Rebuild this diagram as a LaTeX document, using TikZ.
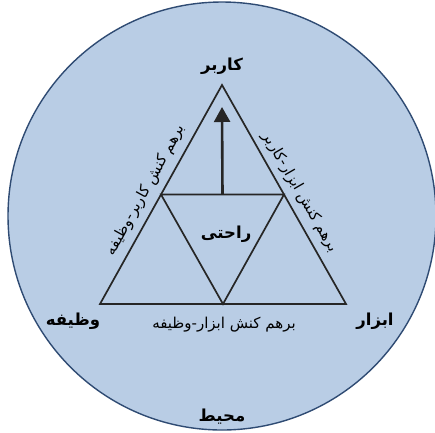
\documentclass[tikz,border=0pt]{standalone}
\usepackage{fontspec}
\usetikzlibrary{arrows.meta,calc}
\TeXXeTstate=1
\newfontfamily\arabicfont[Script=Arabic]{DejaVu Sans}
\definecolor{bgblue}{HTML}{B9CDE5}
\definecolor{rimblue}{HTML}{2F4B73}
\definecolor{linegray}{HTML}{262626}
\begin{document}
\begin{tikzpicture}[x=1pt,y=-1pt,
  edge/.style={draw=linegray,line width=1.7pt,line join=miter},
  biglabel/.style={font=\arabicfont\bfseries\fontsize{16.5}{19}\selectfont,inner sep=0pt},
  sidelabel/.style={font=\arabicfont\fontsize{15}{18}\selectfont,inner sep=0pt}]
\useasboundingbox (0,0) rectangle (435,432);
\begin{scope}
\clip (0,0) rectangle (435,432);
\node[circle,draw=rimblue,fill=bgblue,line width=1.4pt,minimum size=428pt,inner sep=0pt] (envcircle) at (222,216) {};
\end{scope}
\coordinate (A) at (222,85);
\coordinate (B) at (100,304);
\coordinate (C) at (346,304);
\coordinate (AB) at ($(A)!0.5!(B)$);
\coordinate (AC) at ($(A)!0.5!(C)$);
\coordinate (BC) at ($(B)!0.5!(C)$);
\draw[edge] (A) -- (B) -- (C) -- cycle;
\draw[edge] (AB) -- (AC) -- (BC) -- cycle;
\coordinate (arrowbase) at ($(AB)!0.5!(AC)$);
\coordinate (arrowtip) at (222,107);
\draw[edge,line width=2.6pt,-{Triangle[width=16pt,length=15pt]}] (arrowbase) -- (arrowtip);
\node[biglabel] (user) at (222,66) {\beginR کاربر\endR};
\node[biglabel] (task) at (73,321) {\beginR وظیفه\endR};
\node[biglabel] (tool) at (375,321) {\beginR ابزار\endR};
\node[biglabel] (env) at (222,417) {\beginR محیط\endR};
\node[biglabel] (comfort) at (226,234) {\beginR راحتی\endR};
\node[sidelabel,rotate=61] (ut) at (146,190) {\beginR برهم کنش کاربر-وظیفه\endR};
\node[sidelabel,rotate=-60] (tu) at (300,192) {\beginR برهم کنش ابزار-کاربر\endR};
\node[sidelabel] (tt) at (224,325) {\beginR برهم کنش ابزار-وظیفه\endR};
\end{tikzpicture}
\end{document}
